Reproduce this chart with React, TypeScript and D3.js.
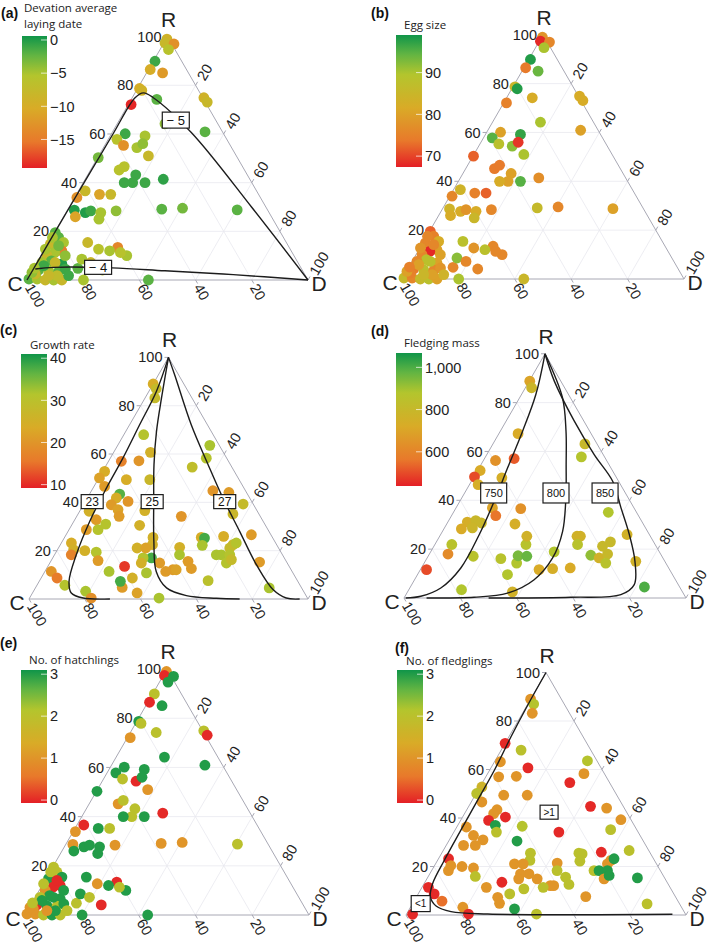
import React from "react";
import * as d3 from "d3";

// ---------- Panels (a), (b), (e): same nests, composition R %, D % ----------
const abeR = [99,97.4,97,94.7,89.9,86.5,85.1,78.7,77.9,72.1,
  74.2,74.9,73.1,60.9,64.2,60.1,57.8,59.2,55.3,54.4,
  56,51,50.3,45.2,46.6,43.2,40,40,40,41.4,
  36.6,33.9,35.2,35.2,28.7,27.7,28.4,27.7,25,28.4,
  26,29.1,29.5,28.8,19.5,17.5,15.4,14.8,12,11.3,
  10,7.9,6.6,7.2,4.1,3.8,3.6,4.5,0.4,0.4,
  0,0,0,2.5,4.8,15.4,12.7,13.4,10,0,
  0,8.6,7.2,12,11.3,4.1,12.7,10,1.8,3.1,
  17.5,5.9,7.2,1.8,1.8,4.9,14.1];
const abeD = [0.3,0.4,3.8,3,0.6,0.6,5.7,0.7,1.9,1,
  9.1,25.5,27.6,32.9,17,4.9,3.1,12.4,6.7,11.9,
  13.2,17.7,0.2,10.2,11.3,17.1,17.6,14.6,22,27.8,
  2.4,0.8,8.2,12.2,2.5,6.9,8.5,12.4,13.1,17.5,
  4.2,33.4,40.6,60.4,0.3,2.5,5.3,0.9,6.4,4.2,
  2.1,4.7,9.1,1.7,2.1,5.8,9.5,11.4,0.5,3.4,
  6.5,9.5,12.4,1.7,15.7,13.9,19.1,25.6,30.5,20.1,
  43.2,15.2,19.1,23.4,27.6,24.8,0.2,8.6,9.8,0.2,
  0.3,3,6.4,13.9,6.8,0.2,4.2];
const layingDev = [-9,-8,-13,-6,-1,-10,-12,-10,-9,-19,
  -2,-9,-8,-2,-4,-1,-6,-5,-13,-5,
  -4,-8,-3,-6,-6,-1,-1,-1,-1,-0.5,
  -8,-13,-11,-8,0,0,-1,-5,-5,-4,
  -11,-2,-3,-2,-2,-2,-5,-8,-15,-5,
  -8,-2,0,-5,-2,-5,-2,-1,-2,-5,
  -8,-5,-8,-8,-2,-8,-6,-14,-5,-5,
  -2,-5,-8,-5,-6,-6,-5,-4,-7,-4,
  -5,-1,-8,-1,-8,-5,-3];
const eggSize = [78,68,76,90,98,74,94,85,98,75,
  82,82,82,80,90,80,95,97,88,92,
  69,90,72,74,74,80,80,82,95,77,
  84,76,75,72,84,82,78,82,85,76,
  82,86,76,80,72,75,82,76,80,68,
  76,88,80,76,74,88,76,78,86,76,
  86,88,80,75,76,88,78,76,76,90,
  85,92,76,88,76,76,78,80,80,80,
  76,80,88,84,85,75,76];
const hatchlings = [1,0,3,3,2,0,3,3,2,1,
  2,2,0,3,3,3,3,3,2,0,
  3,1,3,1,2,2,2,3,3,0,
  0,1,3,2,1,3,3,3,3,1,
  3,1,1,2,2,2,3,3,0,0,
  1,3,3,2,0,3,2,3,1,1,
  2,3,2,1,2,3,1,0,3,3,
  3,3,2,3,2,0,2,3,3,1,
  2,3,3,2,1,2,0];

// ---------- Panels (c), (f): same nests ----------
const cfR = [89,87,83.2,68,63.6,58.3,60.7,57,57.2,54.6,
  52.8,50.1,49.4,49.4,46.6,43.4,41.8,40.4,39,37,
  34.2,36.6,36.3,32.8,31,28.7,28.7,30.5,34.2,44.8,
  44.1,39.3,35.2,25.5,25.2,22.2,25.9,26.6,22.5,21.1,
  23.2,18.3,18.3,18.3,14.9,16.3,15.3,7.6,4.6,21.4,
  18.3,15.6,12.6,12.1,12.1,11.4,22.5,25.5,17,17,
  14.9,14.9,10.8,0.4,2.5,8.7,4.8,13.5,7.3,11.4,
  19.4,15.9,3.2,0.4,23.2,20.4,18.3,20,11.4,8.7,
  5.7,21.1,21.1];
const cfD = [0,2.1,3.5,7.1,33,34.4,13.2,4.6,10.8,31.2,
  0.7,0.2,10.2,18.6,3.8,10.8,10.4,15.3,10,13.4,
  15.2,23.2,3.4,7.7,12,10.4,6.2,24.4,37.5,43.5,
  49.6,57.1,55.5,49,50.3,51,56.8,66.4,61.9,61.4,
  62.7,58,59.8,62.8,63.3,64.4,75,60.4,83.8,43.3,
  44.8,49.2,51.9,45.5,46.7,43.3,33,31.7,35.4,32.4,
  39.4,32.8,36.7,46.4,37.5,32.7,31,27.5,29.1,23,
  14.4,16.8,18.7,22.1,3.6,5.8,6,10,2.3,5.7,
  10,28.2,31.3];
const growthRate = [24,28,28,31,32,31,25,17,20,29,
  24,22,24,27,21,37,24,20,21,22,
  21,25,25,21,31,31,21,25,20,20,
  21,28,27,24,38,32,24,21,28,28,
  31,32,32,31,31,28,21,30,32,25,
  32,21,21,21,22,21,25,25,38,31,
  21,25,32,32,22,25,21,11,38,32,
  31,21,32,19,24,25,17,25,20,16,
  31,25,22];
const fledglings = [1,2.1,1,2,2.1,1,0,1,1,0,
  1.6,2,1,1,1,1,1,0,0,3,
  2,2.1,1,1,1,1,1,3,0,0,
  1,1,2,2,2,2,0,2,1,1,
  3,2,3,3,1,3,3,1,2,1,
  2,2,2,1,1,2,2,2,1,1,
  1,1,2,2,3,2,1,0,1,1,
  1,2,1,0,0,1,1,1,0,0,
  0.5,1,1];
const fExtraR = [70.8,63.2,0.3];
const fExtraD = [0,2.1,2.2];
const fExtraFledglings = [0,1,0];

// ---------- Panel (d) ----------
const dR = [88.8,86.1,67.3,63.1,57.8,56.3,57.1,52.2,49.6,49.2,
  46.4,36.9,33.7,36.6,30.3,35.1,31.1,31.7,30.7,28.7,
  28.3,21.9,18,11.6,17.1,3.4,16.1,9.6,14.3,17.3,
  17.1,21.9,25.3,2.5,11.6,12,18.9,12.3,25.3,25.3,
  21.9,17.5,16.4,21.2,18,23,14.3,26,15,4.5];
const dD = [0.2,2.2,6.8,32.6,34,4.3,10.5,0.9,0.2,10.1,
  3.1,12.9,15.7,23.1,24.2,54.9,6.9,9.6,12.1,9.9,
  6.2,6,6.6,2.2,16,18.7,26.3,31.9,32.8,31.8,
  35,32.3,30.9,37.2,42.1,46.7,43.8,52.8,48.7,49.9,
  50.6,57.5,61,59.8,63.2,61.7,64.4,66.1,74.7,83];
const fledgingMass = [700,780,720,800,870,640,520,720,500,740,
  740,700,560,640,740,880,740,790,790,780,
  720,860,620,500,860,880,860,880,880,950,
  970,860,760,760,720,740,880,720,760,760,
  860,920,760,800,800,800,860,760,760,1000];

// ---------- Contours [R, D] ----------
const contA5: [number, number][] = [[0,0],[30,0.2],[60,0.6],[74.9,1.0],[76.9,3],[74.9,7.5],[60.5,28.3],[30,64.9],[0,100]];
const contA4: [number, number][] = [[4.5,0.7],[5.2,6.9],[5.0,27.7],[3.8,47.2],[2.2,72.3],[0,100]];
const contC23: [number, number][] = [[100,0],[85.9,2.7],[72.1,3.6],[58.3,4.5],[45.9,4.8],[32.1,5.7],[18.3,7.8],[7.3,10.7],[2.5,13.9],[0.4,19.2],[0,29]];
const contC25: [number, number][] = [[100,0],[83.2,5.9],[69.4,11],[55.6,17],[40.4,24.5],[23.9,32.8],[11.4,39.9],[4.6,47],[1.4,55.7],[0.3,67],[0,75.5]];
const contC27: [number, number][] = [[100,0],[92.8,5.8],[72.1,22.1],[55.6,36.4],[41.8,48.6],[28,61.5],[14.2,74.4],[3.9,85.5],[0.4,92],[0,97]];
const contD750: [number, number][] = [[100,0],[83.3,5.1],[68.3,7.9],[53.3,10.1],[39.6,12.2],[26,13.7],[12.3,14],[4.1,11],[0.7,5.6],[0,0.6]];
const contD800: [number, number][] = [[100,0],[82,15.2],[68.3,23.3],[54.6,30.2],[41,36.9],[27.3,42.6],[16.4,44.5],[7.5,42.4],[2,35.7],[0.3,24.7],[0,8]];
const contD850: [number, number][] = [[100,0],[88.8,8.9],[72.4,24.2],[58.7,38.1],[47.8,50.1],[36.9,58.5],[26,66.9],[15,74.4],[5.5,78.9],[1.4,76.2],[0.3,59],[0,30]];
const contF1: [number, number][] = [[100,0],[86.6,0.2],[73.5,0.75],[59.8,1.7],[47.4,1.9],[35,2.1],[22.7,2.4],[13.1,3],[7.6,4.9],[3.7,8.9],[1.4,15.4],[0.4,29],[0.3,95]];

const axisTicks = [20, 40, 60, 80, 100];
const gridLevels = [20, 40, 60, 80];

const COLOR_T = [0, 0.2, 0.45, 0.7, 0.86, 1];
const COLOR_C = ["#e41f26", "#e8792b", "#d9ab27", "#b3c52d", "#5fb443", "#109549"];
const ramp = d3.scaleLinear<string>().domain(COLOR_T).range(COLOR_C).interpolate(d3.interpolateRgb).clamp(true);

type Series = { R: number[]; D: number[]; v: number[] };
type Box = { R: number; D: number; text: string; w: number; h: number; fs: number };
type Cfg = {
  id: string; tag: string; tagX: number; tagY: number;
  cx: number; cy: number; w: number;
  barX: number; barY0: number; barY1: number; barW: number;
  domain: [number, number]; ticks: number[]; fmt: (v: number) => string;
  title: string[]; titleX: number; titleY: number;
  series: Series[]; contours: [number, number][][]; boxes: Box[];
};

const minus = (v: number) => (v < 0 ? "\u2212" + Math.abs(v) : String(v));

const PANELS: Cfg[] = [
  { id: "a", tag: "(a)", tagX: 1, tagY: 18, cx: 27, cy: 280, w: 281,
    barX: 22, barY0: 36, barY1: 168, barW: 25, domain: [-19.3, 0.6], ticks: [0, -5, -10, -15], fmt: minus,
    title: ["Devation average", "laying date"], titleX: 24, titleY: 11.5,
    series: [{ R: abeR, D: abeD, v: layingDev }],
    contours: [contA5, contA4],
    boxes: [{ R: 65.7, D: 20.1, text: "\u2212 5", w: 27, h: 16, fs: 13 }, { R: 5.2, D: 22.7, text: "\u2212 4", w: 27, h: 14, fs: 13 }] },
  { id: "b", tag: "(b)", tagX: 371, tagY: 18, cx: 402, cy: 279, w: 282,
    barX: 396, barY0: 35, barY1: 167, barW: 26, domain: [67.4, 99], ticks: [90, 80, 70], fmt: (v) => String(v),
    title: ["Egg size"], titleX: 404, titleY: 29,
    series: [{ R: abeR, D: abeD, v: eggSize }], contours: [], boxes: [] },
  { id: "c", tag: "(c)", tagX: 0, tagY: 335, cx: 29, cy: 599, w: 279,
    barX: 21, barY0: 354, barY1: 488, barW: 26, domain: [9.2, 41], ticks: [40, 30, 20, 10], fmt: (v) => String(v),
    title: ["Growth rate"], titleX: 30, titleY: 349,
    series: [{ R: cfR, D: cfD, v: growthRate }],
    contours: [contC23, contC25, contC27],
    boxes: [{ R: 40.3, D: 2.5, text: "23", w: 22, h: 14, fs: 12 }, { R: 40.3, D: 24, text: "25", w: 22, h: 14, fs: 12 }, { R: 40.3, D: 50, text: "27", w: 22, h: 14, fs: 12 }] },
  { id: "d", tag: "(d)", tagX: 371, tagY: 336, cx: 404, cy: 598, w: 282,
    barX: 396, barY0: 353, barY1: 486, barW: 26, domain: [438, 1068], ticks: [1000, 800, 600], fmt: d3.format(","),
    title: ["Fledging mass"], titleX: 404, titleY: 347,
    series: [{ R: dR, D: dD, v: fledgingMass }],
    contours: [contD750, contD800, contD850],
    boxes: [{ R: 43, D: 10.3, text: "750", w: 26, h: 20, fs: 11 }, { R: 43, D: 32.4, text: "800", w: 26, h: 20, fs: 11 }, { R: 43, D: 49.8, text: "850", w: 26, h: 20, fs: 11 }] },
  { id: "e", tag: "(e)", tagX: 0, tagY: 648, cx: 25, cy: 915, w: 284,
    barX: 21, barY0: 670, barY1: 803, barW: 26, domain: [-0.07, 3.1], ticks: [3, 2, 1, 0], fmt: (v) => String(v),
    title: ["No. of hatchlings"], titleX: 29, titleY: 664,
    series: [{ R: abeR, D: abeD, v: hatchlings }], contours: [], boxes: [] },
  { id: "f", tag: "(f)", tagX: 395, tagY: 653, cx: 406, cy: 915, w: 280,
    barX: 397, barY0: 670, barY1: 803, barW: 26, domain: [-0.07, 3.1], ticks: [3, 2, 1, 0], fmt: (v) => String(v),
    title: ["No. of fledglings"], titleX: 406, titleY: 665,
    series: [{ R: cfR, D: cfD, v: fledglings }, { R: fExtraR, D: fExtraD, v: fExtraFledglings }],
    contours: [contF1],
    boxes: [{ R: 42.4, D: 29.9, text: ">1", w: 18, h: 14, fs: 10 }, { R: 4.7, D: 2.9, text: "<1", w: 19, h: 16, fs: 10 }] },
];

const SANS = "Liberation Sans, Arial, sans-serif";

function Panel({ cfg }: { cfg: Cfg }) {
  const { cx, cy, w } = cfg;
  const h = (w * Math.sqrt(3)) / 2;
  const sx = d3.scaleLinear().domain([0, 100]).range([0, w]);
  const sy = d3.scaleLinear().domain([0, 100]).range([0, h]);
  const X = (R: number, D: number) => cx + sx(D) + sx(R) / 2;
  const Y = (R: number) => cy - sy(R);
  const tScale = d3.scaleLinear().domain(cfg.domain).range([0, 1]).clamp(true);
  const col = (v: number) => ramp(tScale(v));
  const barScale = d3.scaleLinear().domain(cfg.domain).range([cfg.barY1, cfg.barY0]);
  const line = d3.line<[number, number]>().x((p) => X(p[0], p[1])).y((p) => Y(p[0])).curve(d3.curveCatmullRom.alpha(0.5));
  const gid = `grad-${cfg.id}`;
  const gradStops = d3.range(0, 1.0001, 0.05);

  const grid: [number, number, number, number][] = [];
  gridLevels.forEach((k) => {
    grid.push([k, 0, k, 100 - k]);
    grid.push([0, k, 100 - k, k]);
    grid.push([0, 100 - k, 100 - k, 0]);
  });

  return (
    <g>
      <defs>
        <linearGradient id={gid} x1="0" y1="1" x2="0" y2="0">
          {gradStops.map((t) => (
            <stop key={t} offset={t} stopColor={ramp(t)} />
          ))}
        </linearGradient>
      </defs>
      {grid.map((g, i) => (
        <line key={i} x1={X(g[0], g[1])} y1={Y(g[0])} x2={X(g[2], g[3])} y2={Y(g[2])} stroke="#e9e9ef" strokeWidth={0.8} />
      ))}
      <path d={`M${X(0, 0)},${Y(0)}L${X(0, 100)},${Y(0)}L${X(100, 0)},${Y(100)}Z`} fill="none" stroke="#a8a8b4" strokeWidth={1} />
      {axisTicks.map((k) => {
        const lx = X(k, 0), ly = Y(k);
        const bx = X(0, 100 - k), by = Y(0);
        const rx = X(100 - k, k), ry = Y(100 - k);
        return (
          <g key={k} fontFamily={SANS} fontSize={14.5} fill="#222">
            <line x1={lx} y1={ly} x2={lx - 4} y2={ly} stroke="#a8a8b4" />
            <text x={lx - 6} y={ly} dy="0.35em" textAnchor="end">{k}</text>
            <line x1={bx} y1={by} x2={bx + 2} y2={by + 3.5} stroke="#a8a8b4" />
            <text transform={`translate(${bx + 2},${by + 5}) rotate(60)`} dy="0.35em" textAnchor="start">{k}</text>
            <line x1={rx} y1={ry} x2={rx + 2} y2={ry - 3.5} stroke="#a8a8b4" />
            <text transform={`translate(${rx + 5},${ry - 6}) rotate(-60)`} dy="0.35em" textAnchor="start">{k}</text>
          </g>
        );
      })}
      <g fontFamily={SANS} fontSize={21} fill="#222" textAnchor="middle">
        <text x={X(100, 0) + 1} y={Y(100) - 10}>R</text>
        <text x={X(0, 0) - 12} y={Y(0) + 11}>C</text>
        <text x={X(0, 100) + 11} y={Y(0) + 11}>D</text>
      </g>
      {cfg.series.map((s, si) =>
        s.R.map((r, i) => <circle key={`${si}-${i}`} cx={X(r, s.D[i])} cy={Y(r)} r={5.4} fill={col(s.v[i])} />)
      )}
      {cfg.contours.map((c, i) => (
        <path key={i} d={line(c) || ""} fill="none" stroke="#1c1c1c" strokeWidth={1.4} />
      ))}
      {cfg.boxes.map((b, i) => (
        <g key={i}>
          <rect x={X(b.R, b.D) - b.w / 2} y={Y(b.R) - b.h / 2} width={b.w} height={b.h} fill="#fff" stroke="#1c1c1c" strokeWidth={1.2} />
          <text x={X(b.R, b.D)} y={Y(b.R)} dy="0.36em" textAnchor="middle" fontFamily={SANS} fontSize={b.fs} fill="#111">{b.text}</text>
        </g>
      ))}
      <rect x={cfg.barX} y={cfg.barY0} width={cfg.barW} height={cfg.barY1 - cfg.barY0} fill={`url(#${gid})`} />
      {cfg.ticks.map((t) => (
        <g key={t}>
          <line x1={cfg.barX + cfg.barW - 6} x2={cfg.barX + cfg.barW} y1={barScale(t)} y2={barScale(t)} stroke="#fff" strokeOpacity={0.7} />
          <text x={cfg.barX + cfg.barW + 3} y={barScale(t)} dy="0.36em" fontFamily={SANS} fontSize={14.5} fill="#222">{cfg.fmt(t)}</text>
        </g>
      ))}
      {cfg.title.map((t, i) => (
        <text key={i} x={cfg.titleX} y={cfg.titleY + i * 16} fontFamily="Open Sans, sans-serif" fontSize={11.5} fill="#222">{t}</text>
      ))}
      <text x={cfg.tagX} y={cfg.tagY} fontFamily={SANS} fontWeight="bold" fontSize={14} fill="#111">{cfg.tag}</text>
    </g>
  );
}

export default function App() {
  return (
    <svg width={709} height={944} style={{ position: "absolute", left: 0, top: 0, background: "#fff" }}>
      <rect width={709} height={944} fill="#fff" />
      {PANELS.map((p) => (
        <Panel key={p.id} cfg={p} />
      ))}
    </svg>
  );
}
